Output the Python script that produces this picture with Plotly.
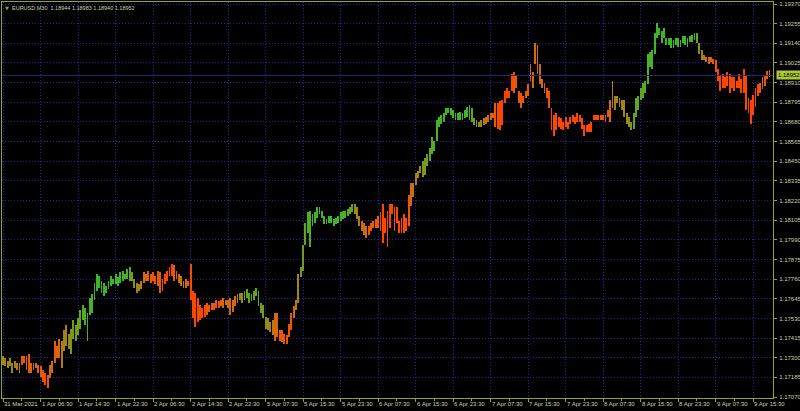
import plotly.graph_objects as go

symbol = "EURUSD,M30"
last_ohlc = [1.18944, 1.18983, 1.18940, 1.18952]
bid_price = 1.18952

time_labels = ["31 Mar 2021", "1 Apr 06:30", "1 Apr 14:30", "1 Apr 22:30", "2 Apr 06:30",
               "2 Apr 14:30", "2 Apr 22:30", "5 Apr 07:30", "5 Apr 15:30", "5 Apr 23:30",
               "6 Apr 07:30", "6 Apr 15:30", "6 Apr 23:30", "7 Apr 07:30", "7 Apr 15:30",
               "7 Apr 23:30", "8 Apr 07:30", "8 Apr 15:30", "8 Apr 23:30", "9 Apr 07:30",
               "9 Apr 15:30"]
label_bars = [0, 16, 32, 48, 64, 80, 96, 112, 128, 144, 160, 176, 192, 208, 224, 240,
              256, 272, 288, 304, 320]
half_bars = [8, 24, 40, 56, 72, 88, 104, 120, 136, 152, 168, 184, 200, 216, 232, 248,
             264, 280, 296, 312]

price_ticks = [1.17070, 1.17185, 1.17300, 1.17415, 1.17530, 1.17645, 1.17760, 1.17875,
               1.17990, 1.18105, 1.18220, 1.18335, 1.18450, 1.18565, 1.18680, 1.18795,
               1.18910, 1.19025, 1.19140, 1.19255, 1.19370]

highs = [
    1.1731, 1.1730, 1.1728, 1.1730, 1.1727, 1.1728, 1.1727, 1.1727, 1.1731, 1.1731, 1.1731, 1.1732, 1.1727, 1.1727, 1.1727, 1.1726,
    1.1725, 1.1723, 1.1721, 1.1720, 1.1726, 1.1728, 1.1740, 1.1737, 1.1741, 1.1740, 1.1746, 1.1749, 1.1744, 1.1747, 1.1752, 1.1749,
    1.1753, 1.1758, 1.1761, 1.1759, 1.1756, 1.1765, 1.1767, 1.1774, 1.1779, 1.1778, 1.1775, 1.1774, 1.1772, 1.1775, 1.1778, 1.1776,
    1.1779, 1.1777, 1.1780, 1.1781, 1.1779, 1.1782, 1.1783, 1.1780, 1.1776, 1.1774, 1.1773, 1.1775, 1.1780, 1.1779, 1.1781, 1.1779,
    1.1780, 1.1778, 1.1781, 1.1780, 1.1776, 1.1779, 1.1781, 1.1783, 1.1785, 1.1784, 1.1781, 1.1779, 1.1778, 1.1775, 1.1776, 1.1775,
    1.1785, 1.1769, 1.1768, 1.1765, 1.1761, 1.1759, 1.1761, 1.1762, 1.1761, 1.1762, 1.1762, 1.1764, 1.1763, 1.1764, 1.1765, 1.1764,
    1.1764, 1.1765, 1.1764, 1.1766, 1.1767, 1.1768, 1.1768, 1.1769, 1.1770, 1.1768, 1.1767, 1.1769, 1.1771, 1.1769, 1.1762, 1.1761,
    1.1754, 1.1753, 1.1751, 1.1752, 1.1756, 1.1756, 1.1746, 1.1746, 1.1744, 1.1743, 1.1750, 1.1756, 1.1760, 1.1764, 1.1779, 1.1783,
    1.1796, 1.1809, 1.1815, 1.1816, 1.1814, 1.1815, 1.1818, 1.1818, 1.1816, 1.1813, 1.1811, 1.1813, 1.1813, 1.1811, 1.1812, 1.1813,
    1.1815, 1.1816, 1.1816, 1.1817, 1.1818, 1.1820, 1.1820, 1.1818, 1.1813, 1.1810, 1.1809, 1.1807, 1.1807, 1.1809, 1.1810, 1.1811,
    1.1813, 1.1815, 1.1820, 1.1812, 1.1816, 1.1820, 1.1820, 1.1818, 1.1818, 1.1810, 1.1812, 1.1814, 1.1812, 1.1825, 1.1832, 1.1832,
    1.1838, 1.1839, 1.1842, 1.1845, 1.1847, 1.1849, 1.1853, 1.1859, 1.1857, 1.1869, 1.1871, 1.1872, 1.1873, 1.1876, 1.1876, 1.1876,
    1.1875, 1.1873, 1.1873, 1.1874, 1.1873, 1.1875, 1.1877, 1.1878, 1.1876, 1.1870, 1.1869, 1.1868, 1.1869, 1.1870, 1.1871, 1.1872,
    1.1873, 1.1873, 1.1879, 1.1879, 1.1880, 1.1881, 1.1886, 1.1888, 1.1886, 1.1896, 1.1897, 1.1895, 1.1886, 1.1885, 1.1883, 1.1886,
    1.1890, 1.1902, 1.1897, 1.1914, 1.1913, 1.1902, 1.1893, 1.1891, 1.1888, 1.1886, 1.1876, 1.1872, 1.1873, 1.1871, 1.1870, 1.1868,
    1.1871, 1.1868, 1.1871, 1.1872, 1.1871, 1.1873, 1.1872, 1.1870, 1.1866, 1.1866, 1.1867, 1.1868, 1.1872, 1.1872, 1.1872, 1.1872,
    1.1872, 1.1872, 1.1875, 1.1881, 1.1892, 1.1883, 1.1883, 1.1882, 1.1881, 1.1881, 1.1873, 1.1871, 1.1868, 1.1873, 1.1882, 1.1883,
    1.1888, 1.1891, 1.1892, 1.1908, 1.1909, 1.1910, 1.1920, 1.1926, 1.1923, 1.1921, 1.1923, 1.1917, 1.1917, 1.1917, 1.1916, 1.1917,
    1.1917, 1.1916, 1.1918, 1.1918, 1.1917, 1.1918, 1.1919, 1.1920, 1.1920, 1.1914, 1.1910, 1.1907, 1.1906, 1.1906, 1.1906, 1.1905,
    1.1904, 1.1899, 1.1895, 1.1896, 1.1894, 1.1897, 1.1896, 1.1894, 1.1894, 1.1892, 1.1896, 1.1893, 1.1899, 1.1895, 1.1882, 1.1881,
    1.1884, 1.1888, 1.1890, 1.1891, 1.1894, 1.1895, 1.1898, 1.18983,
]

lows = [
    1.1726, 1.1725, 1.1724, 1.1725, 1.1721, 1.1724, 1.1723, 1.1721, 1.1726, 1.1727, 1.1723, 1.1721, 1.1721, 1.1723, 1.1724, 1.1721,
    1.1719, 1.1716, 1.1714, 1.1712, 1.1718, 1.1721, 1.1727, 1.1730, 1.1730, 1.1724, 1.1734, 1.1737, 1.1735, 1.1732, 1.1741, 1.1740,
    1.1743, 1.1747, 1.1752, 1.1749, 1.1740, 1.1755, 1.1756, 1.1764, 1.1769, 1.1771, 1.1768, 1.1766, 1.1768, 1.1770, 1.1772, 1.1773,
    1.1773, 1.1772, 1.1774, 1.1775, 1.1776, 1.1776, 1.1775, 1.1775, 1.1771, 1.1768, 1.1769, 1.1770, 1.1774, 1.1775, 1.1775, 1.1774,
    1.1775, 1.1773, 1.1772, 1.1768, 1.1769, 1.1773, 1.1775, 1.1778, 1.1778, 1.1775, 1.1776, 1.1774, 1.1772, 1.1771, 1.1771, 1.1772,
    1.1764, 1.1753, 1.1748, 1.1751, 1.1752, 1.1753, 1.1754, 1.1755, 1.1757, 1.1758, 1.1758, 1.1759, 1.1759, 1.1760, 1.1759, 1.1761,
    1.1759, 1.1755, 1.1757, 1.1760, 1.1762, 1.1764, 1.1762, 1.1764, 1.1765, 1.1762, 1.1763, 1.1764, 1.1766, 1.1760, 1.1756, 1.1753,
    1.1747, 1.1746, 1.1745, 1.1743, 1.1740, 1.1742, 1.1740, 1.1739, 1.1738, 1.1738, 1.1742, 1.1746, 1.1753, 1.1758, 1.1762, 1.1777,
    1.1781, 1.1796, 1.1803, 1.1795, 1.1807, 1.1809, 1.1812, 1.1814, 1.1812, 1.1808, 1.1808, 1.1809, 1.1809, 1.1807, 1.1808, 1.1809,
    1.1810, 1.1811, 1.1812, 1.1813, 1.1814, 1.1815, 1.1814, 1.1811, 1.1807, 1.1804, 1.1802, 1.1800, 1.1802, 1.1804, 1.1806, 1.1806,
    1.1806, 1.1804, 1.1797, 1.1803, 1.1795, 1.1806, 1.1814, 1.1804, 1.1809, 1.1803, 1.1803, 1.1803, 1.1804, 1.1807, 1.1819, 1.1824,
    1.1831, 1.1835, 1.1838, 1.1836, 1.1837, 1.1842, 1.1845, 1.1849, 1.1851, 1.1857, 1.1865, 1.1867, 1.1868, 1.1872, 1.1873, 1.1872,
    1.1870, 1.1869, 1.1869, 1.1869, 1.1869, 1.1870, 1.1871, 1.1869, 1.1868, 1.1866, 1.1865, 1.1865, 1.1865, 1.1866, 1.1867, 1.1868,
    1.1869, 1.1870, 1.1865, 1.1864, 1.1863, 1.1866, 1.1879, 1.1882, 1.1882, 1.1886, 1.1885, 1.1888, 1.1879, 1.1876, 1.1879, 1.1882,
    1.1883, 1.1892, 1.1888, 1.1902, 1.1896, 1.1890, 1.1888, 1.1885, 1.1882, 1.1876, 1.1863, 1.1860, 1.1863, 1.1865, 1.1864, 1.1863,
    1.1865, 1.1864, 1.1867, 1.1868, 1.1867, 1.1868, 1.1868, 1.1864, 1.1860, 1.1862, 1.1862, 1.1862, 1.1869, 1.1869, 1.1869, 1.1869,
    1.1869, 1.1868, 1.1871, 1.1868, 1.1876, 1.1875, 1.1879, 1.1877, 1.1875, 1.1871, 1.1867, 1.1865, 1.1863, 1.1864, 1.1871, 1.1875,
    1.1881, 1.1882, 1.1885, 1.1890, 1.1900, 1.1899, 1.1908, 1.1917, 1.1919, 1.1914, 1.1917, 1.1913, 1.1913, 1.1911, 1.1911, 1.1913,
    1.1912, 1.1912, 1.1914, 1.1913, 1.1912, 1.1915, 1.1915, 1.1916, 1.1914, 1.1908, 1.1904, 1.1904, 1.1903, 1.1902, 1.1903, 1.1902,
    1.1897, 1.1892, 1.1886, 1.1888, 1.1888, 1.1889, 1.1885, 1.1888, 1.1886, 1.1888, 1.1888, 1.1885, 1.1885, 1.1875, 1.1873, 1.1867,
    1.1872, 1.1877, 1.1883, 1.1885, 1.1887, 1.1889, 1.1893, 1.18940,
]

# colour level of each bar: 0 = orange-red ... 9 = green
trend_level = (
    "4444543311112222" "1101221223445566" "6778889999999999" "9998887654432211"
    "1111100001123321" "0000000111111122" "2222345677777766" "5443221111112345"
    "6788999999999999" "9988765432221111" "1000000000000123" "4455667788999999"
    "9999999876554432" "2110000000111111" "1122222111000000" "0000000000000011"
    "1112344444455677" "7788899999999999" "9999888875432211" "1000000000000000"
    "00011111"
)

palette = ["#ff4500", "#ec560a", "#d4680e", "#bc7612", "#a28416", "#8a9018",
           "#729c1c", "#5ca820", "#4ab024", "#3cb628"]

FRAME = "#8fa62a"
TEXT = "#c9d3a6"
GRID = "#2424a0"

W, H = 800, 411
left_px, right_px, top_px, bottom_px = 2, 773, 2, 398
px_per_bar = 2.344
n = len(highs)
x_idx = list(range(n))
x0 = -0.45
x1 = x0 + (right_px - left_px) / px_per_bar
px_per_unit = (397 - 4) / (price_ticks[-1] - price_ticks[0])
y_top = price_ticks[-1] + (4 - top_px) / px_per_unit
y_bot = price_ticks[0] - (bottom_px - 397) / px_per_unit

colors = [palette[int(c)] for c in trend_level]

fig = go.Figure()
fig.add_trace(go.Bar(
    x=x_idx,
    y=[h - l for h, l in zip(highs, lows)],
    base=lows,
    marker=dict(color=colors, line=dict(width=0)),
    width=0.8,
    hoverinfo="skip",
))

fig.add_shape(type="line", xref="paper", yref="y",
              x0=left_px / W, x1=right_px / W, y0=bid_price, y1=bid_price,
              line=dict(color="#2a2a72", width=1))

annotations = []
for b, t in zip(label_bars, time_labels):
    annotations.append(dict(
        x=b, xref="x", y=(H - bottom_px) / H, yref="paper",
        text=t, showarrow=False, xanchor="left", yanchor="top",
        xshift=-1, yshift=-1,
        font=dict(family="Liberation Sans", size=6, color=TEXT),
    ))
annotations.append(dict(
    x=10 / W, xref="paper", y=1 - 3 / H, yref="paper", xanchor="left", yanchor="top",
    text=f"{symbol}  " + " ".join(f"{v:.5f}" for v in last_ohlc),
    showarrow=False, font=dict(family="Liberation Sans", size=5.5, color=TEXT),
))
annotations.append(dict(
    x=3 / W, xref="paper", y=1 - 3 / H, yref="paper", xanchor="left", yanchor="top",
    text="▼", showarrow=False, font=dict(family="DejaVu Sans", size=5, color=FRAME),
))
annotations.append(dict(
    x=(right_px + 3) / W, xref="paper", y=bid_price, yref="y",
    xanchor="left", yanchor="middle", text=f"{bid_price:.5f}", showarrow=False,
    bgcolor="#a8c83a", borderpad=1,
    font=dict(family="Liberation Sans", size=6, color="#000000"),
))

fig.update_layout(
    width=W, height=H,
    margin=dict(l=0, r=0, t=0, b=0),
    paper_bgcolor="#000000", plot_bgcolor="#000000",
    showlegend=False, bargap=0,
    annotations=annotations,
    xaxis=dict(
        domain=[left_px / W, right_px / W], range=[x0, x1],
        tickmode="array", tickvals=label_bars, showticklabels=False,
        ticks="outside", ticklen=3, tickcolor=FRAME,
        showgrid=True, gridcolor=GRID, griddash="1px,2px", gridwidth=1,
        minor=dict(tickvals=half_bars, ticks="outside", ticklen=2, tickcolor=FRAME, showgrid=False),
        showline=True, linecolor=FRAME, linewidth=1, mirror=True,
        zeroline=False, fixedrange=True,
    ),
    yaxis=dict(
        domain=[(H - bottom_px) / H, (H - top_px) / H], range=[y_bot, y_top],
        side="right", tickmode="array", tickvals=price_ticks,
        ticktext=[f"{v:.5f}" for v in price_ticks],
        tickfont=dict(family="Liberation Sans", size=6, color=TEXT),
        ticks="outside", ticklen=3, tickcolor=FRAME, ticklabelstandoff=1,
        showgrid=True, gridcolor=GRID, griddash="1px,2px", gridwidth=1,
        showline=True, linecolor=FRAME, linewidth=1, mirror=True,
        zeroline=False, automargin=False, fixedrange=True,
    ),
)

fig.write_html(
    "out.html",
    config={"displayModeBar": False, "staticPlot": True},
    post_script="document.body.style.margin='0';document.body.style.padding='0';"
                "document.body.style.overflow='hidden';",
)
